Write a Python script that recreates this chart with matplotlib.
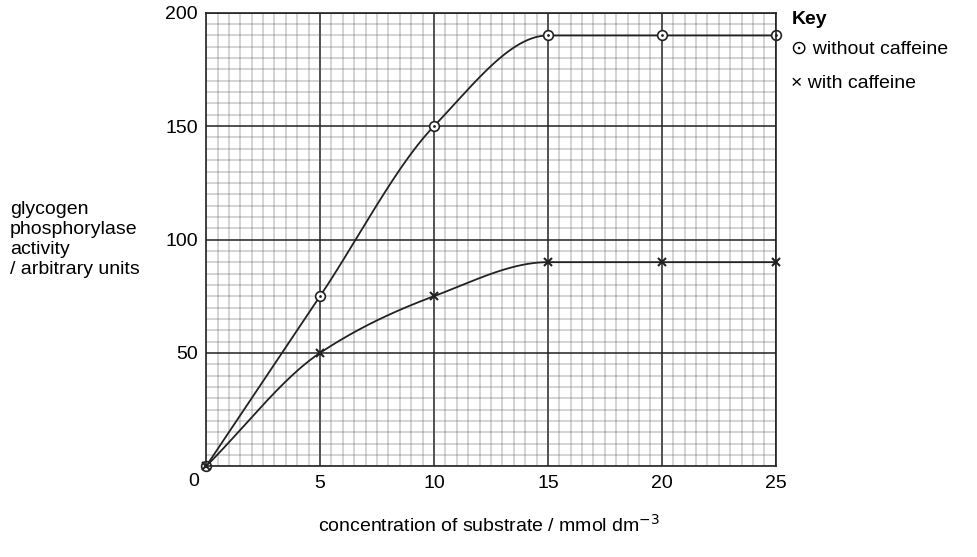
import numpy as np
import matplotlib
matplotlib.use("Agg")
import matplotlib.pyplot as plt
from matplotlib.ticker import MultipleLocator

plt.rcParams['font.family'] = ['Liberation Sans', 'DejaVu Sans']

conc = [0, 5, 10, 15, 20, 25]
without_caffeine = [0, 75, 150, 190, 190, 190]
with_caffeine = [0, 50, 75, 90, 90, 90]

def pchip(x, y, n=300):
    x = np.asarray(x, float); y = np.asarray(y, float)
    h = np.diff(x); d = np.diff(y) / h
    m = np.zeros_like(y)
    for k in range(1, len(x) - 1):
        if d[k-1] * d[k] > 0:
            w1 = 2*h[k] + h[k-1]; w2 = h[k] + 2*h[k-1]
            m[k] = (w1 + w2) / (w1/d[k-1] + w2/d[k])
    m[0] = d[0]; m[-1] = d[-1]
    xs = np.linspace(x[0], x[-1], n); ys = np.empty_like(xs)
    for i, xv in enumerate(xs):
        k = min(np.searchsorted(x, xv, side='right') - 1, len(x) - 2)
        t = (xv - x[k]) / h[k]
        h00 = 2*t**3 - 3*t**2 + 1; h10 = t**3 - 2*t**2 + t
        h01 = -2*t**3 + 3*t**2; h11 = t**3 - t**2
        ys[i] = h00*y[k] + h10*h[k]*m[k] + h01*y[k+1] + h11*h[k]*m[k+1]
    return xs, ys

fig = plt.figure(figsize=(9.77, 5.57), dpi=100)
ax = fig.add_axes([0.211, 0.163, 0.583, 0.814])
ax.set_xlim(0, 25); ax.set_ylim(0, 200)
ax.xaxis.set_major_locator(MultipleLocator(5))
ax.yaxis.set_major_locator(MultipleLocator(50))
ax.xaxis.set_minor_locator(MultipleLocator(0.5))
ax.yaxis.set_minor_locator(MultipleLocator(5))
ax.grid(which='minor', color='#555555', lw=0.35)
ax.grid(which='major', color='#222222', lw=1.1)
ax.set_axisbelow(True)
for s in ax.spines.values():
    s.set_color('#222222'); s.set_linewidth(1.2)
ax.tick_params(which='both', length=0, labelsize=14, pad=6)
ax.set_xticks([5, 10, 15, 20, 25])
ax.set_yticks([50, 100, 150, 200])
ax.text(-0.3, -3, '0', ha='right', va='top', fontsize=14)

xs, ys = pchip(conc, without_caffeine)
ax.plot(xs, ys, color='#222222', lw=1.3, clip_on=False)
xs, ys = pchip(conc, with_caffeine)
ax.plot(xs, ys, color='#222222', lw=1.3, clip_on=False)
ax.plot(conc, without_caffeine, 'o', ms=7, mfc='white', mec='#222222', mew=1.2, clip_on=False)
ax.plot(conc, without_caffeine, '.', ms=2, color='#222222', clip_on=False)
ax.plot(conc, with_caffeine, 'x', ms=6, color='#222222', mew=1.5, clip_on=False)

fig.text(0.01, 0.57, 'glycogen\nphosphorylase\nactivity\n/ arbitrary units', fontsize=14, va='center', ha='left', linespacing=1.25)
fig.text(0.5, 0.045, 'concentration of substrate / mmol dm$^{-3}$', fontsize=14, ha='center')
fig.text(0.81, 0.965, 'Key', fontsize=14, fontweight='bold', va='center')
fig.text(0.81, 0.912, '⊙ without caffeine', fontsize=14, va='center', family=['Liberation Sans', 'DejaVu Sans'])
fig.text(0.81, 0.85, '× with caffeine', fontsize=14, va='center')

fig.savefig('out.png', dpi=100)
